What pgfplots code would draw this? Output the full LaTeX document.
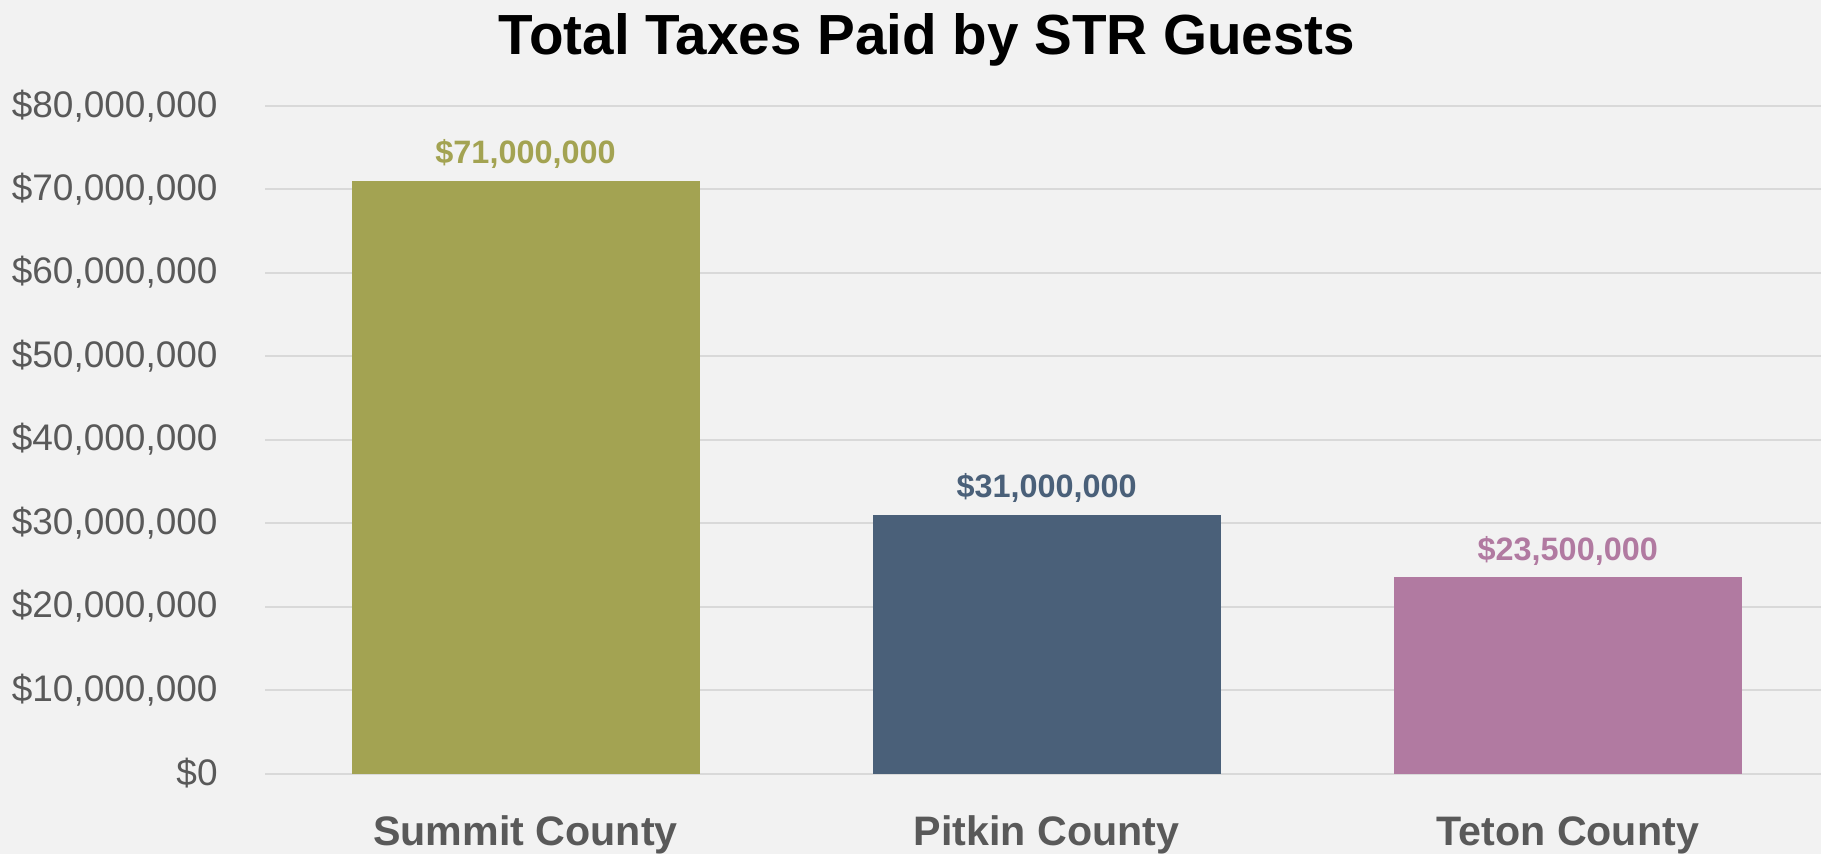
\documentclass[border=0pt]{standalone}
\usepackage{fontspec}
\setmainfont{Liberation Sans}
\usepackage{pgfplots}
\pgfplotsset{compat=1.18}
\definecolor{bg}{HTML}{F2F2F2}
\definecolor{gridc}{HTML}{D9D9D9}
\definecolor{txt}{HTML}{595959}
\definecolor{cA}{HTML}{A3A352}
\definecolor{cB}{HTML}{4A6079}
\definecolor{cC}{HTML}{B17AA1}
\begin{document}
\begin{tikzpicture}
\fill[bg] (0,0) rectangle (910.5bp,427bp);
\useasboundingbox (0,0) rectangle (910.5bp,427bp);
\begin{axis}[
  at={(132.5bp,40.25bp)}, anchor=south west,
  scale only axis, width=778bp, height=333.9bp,
  xmin=-0.5, xmax=2.486, ymin=0, ymax=80000000,
  ybar, bar width=0.668,
  axis line style={draw=none},
  major tick length=0pt,
  ymajorgrids, grid style={gridc, line width=1bp},
  ytick={0,10000000,20000000,30000000,40000000,50000000,60000000,70000000,80000000},
  scaled y ticks=false,
  yticklabel={\$\pgfmathprintnumber[fixed,precision=0,1000 sep={,}]{\tick}},
  /pgf/number format/assume math mode=true,
  yticklabel style={anchor=east, inner xsep=0pt, xshift=-23.5bp, text=txt, font=\fontsize{18.5bp}{22bp}\selectfont},
  xtick={0,1,2},
  xticklabels={Summit County, Pitkin County, Teton County},
  xticklabel style={anchor=base, yshift=-35.75bp, text=txt, font=\fontsize{20.6bp}{24bp}\selectfont\bfseries},
  clip=false,
]
\addplot[fill=cA, draw=none, bar shift=0pt,
  nodes near coords={\$71,000,000},
  nodes near coords style={anchor=base, yshift=8.5bp, text=cA, font=\fontsize{16.2bp}{19bp}\selectfont\bfseries}]
  coordinates {(0,71000000)};
\addplot[fill=cB, draw=none, bar shift=0pt,
  nodes near coords={\$31,000,000},
  nodes near coords style={anchor=base, yshift=8.5bp, text=cB, font=\fontsize{16.2bp}{19bp}\selectfont\bfseries}]
  coordinates {(1,31000000)};
\addplot[fill=cC, draw=none, bar shift=0pt,
  nodes near coords={\$23,500,000},
  nodes near coords style={anchor=base, yshift=8.5bp, text=cC, font=\fontsize{16.2bp}{19bp}\selectfont\bfseries}]
  coordinates {(2,23500000)};
\end{axis}
\node[anchor=base, font=\fontsize{28.3bp}{32bp}\selectfont\bfseries, text=black] at (463.5bp,399.7bp) {Total Taxes Paid by STR Guests};
\end{tikzpicture}
\end{document}
